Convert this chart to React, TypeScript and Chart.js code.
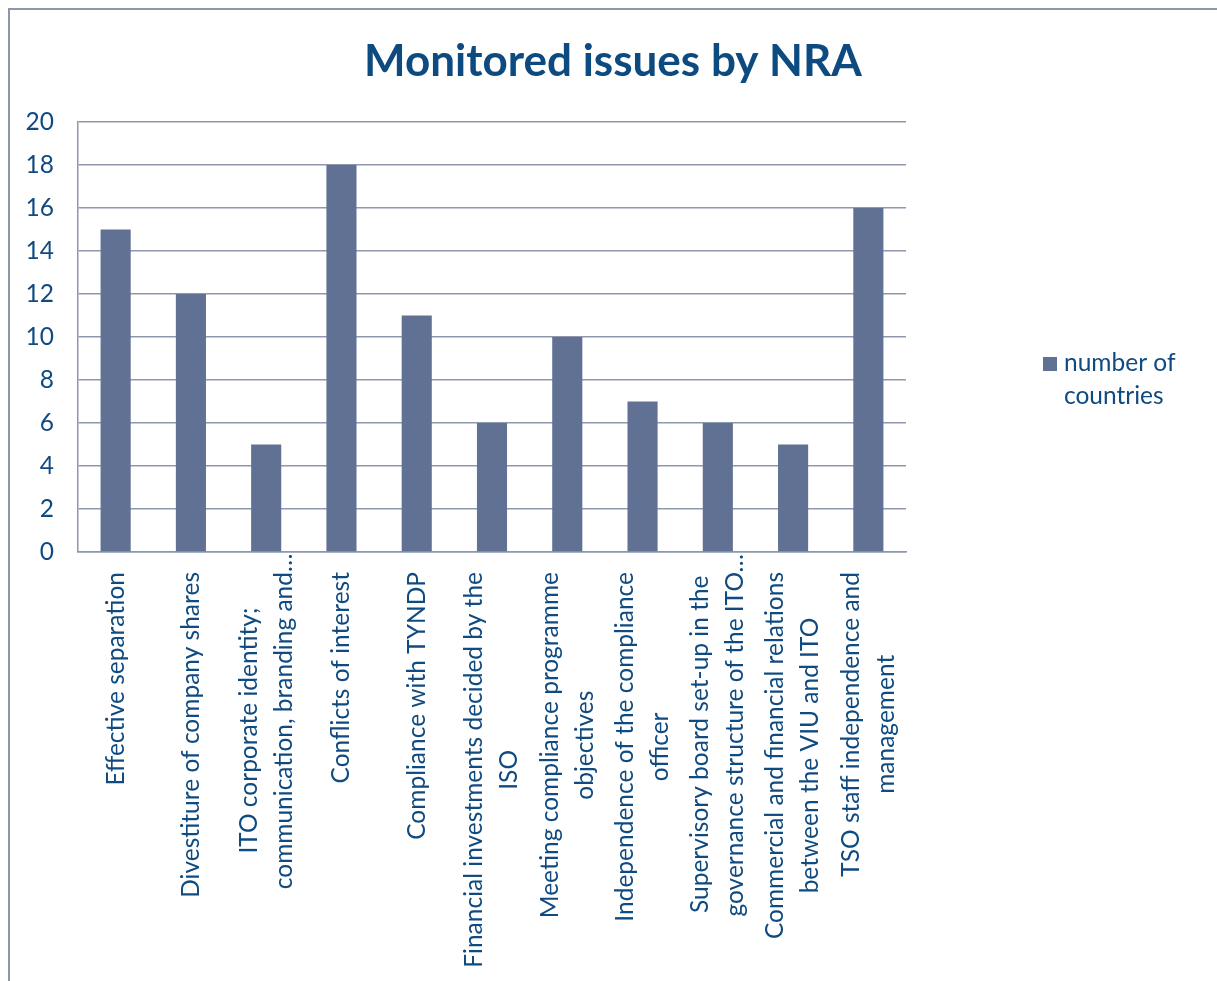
import React, { useEffect, useRef } from "react";
import { Chart, registerables } from "chart.js";

Chart.register(...registerables);

const categories: string[][] = [
  ["Effective separation"],
  ["Divestiture of company shares"],
  ["ITO corporate identity;", "communication, branding and…"],
  ["Conflicts of interest"],
  ["Compliance with TYNDP"],
  ["Financial investments decided by the", "ISO"],
  ["Meeting compliance programme", "objectives"],
  ["Independence of the compliance", "officer"],
  ["Supervisory board set-up in the", "governance structure of the ITO…"],
  ["Commercial and financial relations", "between the VIU and ITO"],
  ["TSO staff independence and", "management"],
];
const seriesName: string[] = ["number of", "countries"];
const countries: number[] = [15, 12, 5, 18, 11, 6, 10, 7, 6, 5, 16];
const yTicks = { min: 0, max: 20, step: 2 };
const titleText = "Monitored issues by NRA";

const BAR = "#607194";
const TEXT = "#0f4a80";
const GRID = "#8e97ae";
const FONT = "Lato";
const FS = 24.5;

const labelPlugin = {
  id: "customLabels",
  afterDraw(chart: any) {
    const ctx = chart.ctx as CanvasRenderingContext2D;
    const xs = chart.scales.x;
    const area = chart.chartArea;
    ctx.save();
    // title, centred on the whole chart
    ctx.fillStyle = "#0d4a80";
    ctx.font = `bold 44px ${FONT}`;
    ctx.textAlign = "center";
    ctx.textBaseline = "middle";
    ctx.fillText(titleText, 603, 52);

    ctx.fillStyle = TEXT;
    ctx.font = `${FS}px ${FONT}`;
    ctx.textBaseline = "middle";
    ctx.textAlign = "left";
    const L = 35;
    const startY = area.bottom + 20;
    categories.forEach((lines, i) => {
      const cx = xs.getPixelForValue(i);
      const cores = lines.map((l) => l.replace(/…$/, ""));
      const widths = cores.map((c) => ctx.measureText(c).width);
      const W = Math.max(...widths);
      const C = startY + W / 2;
      lines.forEach((line, k) => {
        const off = (k - (lines.length - 1) / 2) * L;
        ctx.save();
        ctx.translate(cx + off, C);
        ctx.rotate(-Math.PI / 2);
        ctx.fillText(line, -widths[k] / 2, 0);
        ctx.restore();
      });
    });
    // legend
    const lx = 1033;
    const ly = 347;
    ctx.fillStyle = BAR;
    ctx.fillRect(lx, ly, 14, 14);
    ctx.fillStyle = TEXT;
    ctx.font = `${FS}px ${FONT}`;
    seriesName.forEach((t, k) => {
      ctx.fillText(t, lx + 21, ly + 6 + k * 33);
    });
    ctx.restore();
  },
};

export default function App() {
  const ref = useRef<HTMLCanvasElement | null>(null);
  useEffect(() => {
    if (!ref.current) return;
    const chart = new Chart(ref.current, {
      type: "bar",
      data: {
        labels: categories.map((c) => c.join(" ")),
        datasets: [
          {
            label: seriesName.join(" "),
            data: countries,
            backgroundColor: BAR,
            borderWidth: 0,
            categoryPercentage: 1,
            barPercentage: 0.4,
          },
        ],
      },
      plugins: [labelPlugin],
      options: {
        animation: false,
        responsive: false,
        devicePixelRatio: 1,
        layout: { padding: { top: 112, right: 311, bottom: 0, left: 0 } },
        plugins: {
          legend: { display: false },
          tooltip: { enabled: false },
          title: { display: false },
        },
        scales: {
          x: {
            ticks: { display: false },
            grid: { display: false },
            border: { display: true, color: GRID, width: 1.5 },
            afterFit: (scale: any) => {
              scale.height = 429;
            },
          },
          y: {
            min: yTicks.min,
            max: yTicks.max,
            ticks: {
              stepSize: yTicks.step,
              color: TEXT,
              font: { family: FONT, size: FS },
              padding: 24,
            },
            grid: { color: GRID, lineWidth: 1.5, drawTicks: false },
            border: { display: true, color: GRID, width: 1.5 },
            afterFit: (scale: any) => {
              scale.width = 68;
            },
          },
        },
      },
    });
    return () => chart.destroy();
  }, []);
  return (
    <div
      style={{
        position: "fixed",
        left: 8,
        top: 8,
        width: 1209,
        height: 973,
        borderLeft: "2px solid #8d96ad",
        borderTop: "2px solid #8d96ad",
        background: "#fff",
        overflow: "hidden",
      }}
    >
      <canvas ref={ref} width={1207} height={971} style={{ display: "block" }} />
    </div>
  );
}
